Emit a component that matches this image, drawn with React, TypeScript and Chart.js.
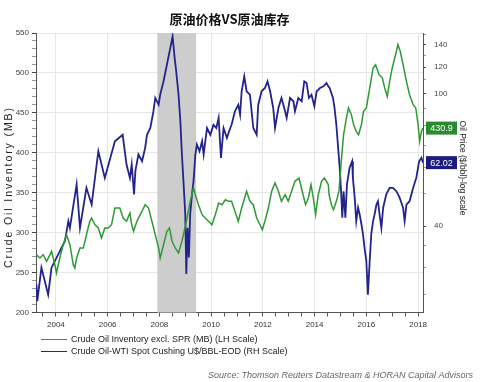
import React, { useEffect, useRef } from "react";
import { Chart, registerables } from "chart.js";

Chart.register(...registerables);

const chartTitle = "原油价格VS原油库存";
const leftAxisTitle = "Crude Oil Inventory (MB)";
const rightAxisTitle = "Oil Price ($/bbl)-log scale";
const sourceText = "Source: Thomson Reuters Datastream & HORAN Capital Advisors";
const inventoryLabel = "Crude Oil Inventory excl. SPR (MB) (LH Scale)";
const priceLabel = "Crude Oil-WTI Spot Cushing U$/BBL-EOD (RH Scale)";
const inventoryLastText = "430.9";
const priceLastText = "62.02";

const xTickYears = [2004, 2006, 2008, 2010, 2012, 2014, 2016, 2018];
const leftLabelTicks = [200, 250, 300, 350, 400, 450, 500, 550];
const rightLabelTicks = [40, 100, 120, 140];
const rightMinorTicks = [25, 30, 35, 40, 50, 60, 70, 80, 90, 100, 110, 120, 130, 140, 150];
const recessionBand = [2007.92, 2009.42];

const greenYears = [
  2003.25, 2003.38, 2003.51, 2003.64, 2003.77, 2003.83, 2003.96, 2004.02, 2004.15, 2004.28,
  2004.41, 2004.54, 2004.67, 2004.73, 2004.8, 2004.93, 2005.06, 2005.18, 2005.31, 2005.38,
  2005.51, 2005.64, 2005.76, 2005.89, 2006.02, 2006.15, 2006.28, 2006.47, 2006.6, 2006.73,
  2006.86, 2006.93, 2007.0, 2007.13, 2007.26, 2007.45, 2007.58, 2007.71, 2007.84, 2007.97,
  2008.03, 2008.16, 2008.29, 2008.39, 2008.49, 2008.61, 2008.74, 2008.87, 2008.93, 2009.07,
  2009.19, 2009.32, 2009.39, 2009.51, 2009.65, 2009.77, 2009.9, 2010.03, 2010.16, 2010.29,
  2010.42, 2010.55, 2010.67, 2010.79, 2010.92, 2011.05, 2011.18, 2011.37, 2011.5, 2011.63,
  2011.76, 2011.89, 2011.98, 2012.08, 2012.21, 2012.34, 2012.47, 2012.6, 2012.72, 2012.86,
  2012.98, 2013.11, 2013.24, 2013.4, 2013.52, 2013.65, 2013.76, 2013.86, 2013.95, 2014.04,
  2014.14, 2014.27, 2014.38, 2014.46, 2014.53, 2014.56, 2014.65, 2014.73, 2014.84, 2014.94,
  2015.03, 2015.12, 2015.23, 2015.31, 2015.42, 2015.51, 2015.61, 2015.7, 2015.81, 2015.89,
  2016.0, 2016.13, 2016.26, 2016.36, 2016.49, 2016.62, 2016.71, 2016.81, 2016.9, 2017.0,
  2017.13, 2017.22, 2017.31, 2017.42, 2017.55, 2017.67, 2017.81, 2017.91, 2018.0, 2018.06,
  2018.13, 2018.19,
];
const inventoryValues = [
  272.4, 268.2, 272.4, 264.1, 272.4, 276.6, 259.9, 249.5, 268.2, 284.9,
  297.4, 284.9, 259.9, 255.7, 268.2, 280.8, 280.8, 297.4, 314.2, 318.3,
  309.9, 305.8, 293.3, 305.8, 305.8, 309.9, 330.8, 330.8, 318.3, 314.2,
  324.6, 309.9, 301.7, 314.2, 322.5, 335.0, 330.8, 314.2, 297.4, 280.8,
  268.2, 284.9, 301.7, 305.8, 289.2, 280.8, 274.5, 289.2, 297.4, 318.3,
  339.2, 355.9, 347.5, 335.0, 322.5, 318.3, 314.2, 309.9, 322.5, 337.1,
  335.0, 341.2, 339.2, 339.2, 326.7, 314.2, 330.8, 351.8, 339.2, 335.0,
  318.3, 309.9, 303.7, 314.2, 330.8, 351.8, 362.2, 351.8, 339.2, 347.5,
  339.2, 351.8, 364.3, 368.4, 351.8, 335.0, 343.4, 360.0, 343.4, 322.5,
  347.5, 364.3, 368.4, 364.3, 360.0, 347.5, 335.0, 328.7, 339.2, 351.8,
  389.3, 422.6, 443.6, 456.1, 447.7, 435.2, 426.9, 422.6, 435.2, 451.9,
  456.1, 481.1, 506.2, 510.3, 497.8, 493.6, 481.1, 470.7, 489.5, 506.2,
  522.8, 535.3, 527.1, 510.3, 489.5, 472.7, 460.2, 456.1, 435.2, 414.4,
  426.9, 430.9,
];

const blueYears = [
  2003.25, 2003.28, 2003.44, 2003.7, 2003.83, 2004.09, 2004.35, 2004.48, 2004.54, 2004.8,
  2004.93, 2005.18, 2005.38, 2005.64, 2005.89, 2006.28, 2006.58, 2006.73, 2006.86, 2006.93,
  2007.02, 2007.07, 2007.19, 2007.33, 2007.45, 2007.52, 2007.65, 2007.77, 2007.84, 2007.97,
  2008.03, 2008.16, 2008.29, 2008.42, 2008.51, 2008.59, 2008.65, 2008.74, 2008.81, 2008.87,
  2008.93, 2009.0, 2009.04, 2009.09, 2009.14, 2009.19, 2009.26, 2009.32, 2009.39, 2009.45,
  2009.55, 2009.65, 2009.71, 2009.84, 2009.97, 2010.09, 2010.2, 2010.29, 2010.38, 2010.48,
  2010.61, 2010.74, 2010.79, 2010.92, 2011.05, 2011.12, 2011.18, 2011.28, 2011.37, 2011.5,
  2011.63, 2011.76, 2011.82, 2011.95, 2012.08, 2012.18, 2012.28, 2012.4, 2012.47, 2012.6,
  2012.72, 2012.86, 2012.92, 2013.05, 2013.18, 2013.24, 2013.37, 2013.5, 2013.6, 2013.69,
  2013.78, 2013.88, 2013.99, 2014.08, 2014.21, 2014.34, 2014.46, 2014.53, 2014.58, 2014.71,
  2014.77, 2014.84, 2014.9, 2014.97, 2015.03, 2015.07, 2015.12, 2015.19, 2015.25, 2015.35,
  2015.45, 2015.48, 2015.55, 2015.61, 2015.68, 2015.74, 2015.81, 2015.87, 2015.93, 2016.0,
  2016.06, 2016.13, 2016.19, 2016.26, 2016.32, 2016.39, 2016.45, 2016.51, 2016.58, 2016.65,
  2016.77, 2016.9, 2017.03, 2017.16, 2017.29, 2017.42, 2017.48, 2017.55, 2017.67, 2017.81,
  2017.93, 2018.04, 2018.13, 2018.19,
];
const priceValues = [
  26.7, 23.8, 30.0, 24.9, 30.0, 32.9, 36.1, 41.4, 39.5, 53.3,
  39.5, 52.1, 46.4, 67.1, 55.8, 71.9, 75.2, 61.2, 55.8, 61.2,
  49.8, 58.5, 65.6, 62.6, 68.7, 75.2, 78.8, 88.5, 97.0, 92.6,
  99.2, 108.8, 122.0, 136.9, 148.4, 127.8, 116.6, 99.2, 82.6, 65.6,
  54.6, 43.4, 28.7, 39.5, 32.2, 43.4, 49.8, 54.6, 65.6, 70.3,
  67.1, 71.9, 65.6, 78.8, 75.2, 80.6, 78.8, 84.5, 64.1, 78.8,
  73.6, 78.8, 80.6, 88.5, 92.6, 86.4, 101.6, 112.6, 101.6, 99.2,
  78.8, 75.2, 92.6, 101.6, 103.9, 108.8, 101.6, 90.5, 78.8, 90.5,
  97.0, 88.5, 84.5, 97.0, 94.8, 88.5, 97.0, 94.8, 108.8, 107.5,
  97.0, 99.2, 91.6, 101.6, 103.9, 105.1, 107.5, 105.1, 103.9, 97.0,
  90.5, 80.6, 70.3, 59.8, 49.8, 42.4, 50.9, 42.4, 53.3, 59.8,
  62.6, 55.8, 48.6, 41.4, 45.4, 43.4, 40.5, 37.8, 34.4, 31.4,
  24.9, 31.4, 37.8, 41.4, 43.4, 46.4, 47.5, 43.4, 39.5, 45.4,
  49.8, 52.1, 52.1, 50.9, 48.6, 45.4, 41.4, 46.4, 47.5, 52.1,
  55.8, 62.6, 64.1, 62.02,
];

const GREEN = "#2f9a35";
const BLUE = "#23238c";
const FONT = '"Liberation Sans", Arial, sans-serif';

const halfYearTicks: number[] = [];
for (let v = 2003.5; v <= 2018.001; v += 0.5) halfYearTicks.push(v);
const leftMinorTicks: number[] = [];
for (let v = 200; v <= 550; v += 10) leftMinorTicks.push(v);

const decorPlugin = {
  id: "decor",
  beforeDatasetsDraw(chart: any) {
    const { ctx, chartArea, scales } = chart;
    const x0 = scales.x.getPixelForValue(recessionBand[0]);
    const x1 = scales.x.getPixelForValue(recessionBand[1]);
    ctx.save();
    ctx.fillStyle = "#cdcdcd";
    ctx.fillRect(x0, chartArea.top, x1 - x0, chartArea.bottom - chartArea.top);
    ctx.restore();
  },
  afterDraw(chart: any) {
    const { ctx, chartArea } = chart;
    ctx.save();
    // title
    ctx.fillStyle = "#111";
    ctx.font = 'bold 13px "Noto Sans CJK SC", sans-serif';
    ctx.textAlign = "center";
    ctx.textBaseline = "middle";
    ctx.fillText(chartTitle, (chartArea.left + chartArea.right) / 2, 19.5);

    // left axis title
    ctx.save();
    ctx.font = "10.5px " + FONT;
    ctx.fillStyle = "#222";
    const w0 = ctx.measureText(leftAxisTitle).width;
    const ls = Math.max(0, (160 - w0) / (leftAxisTitle.length - 1));
    (ctx as any).letterSpacing = ls + "px";
    ctx.translate(9, 188);
    ctx.rotate(-Math.PI / 2);
    ctx.textAlign = "center";
    ctx.fillText(leftAxisTitle, ls / 2, 0);
    ctx.restore();

    // right axis title
    ctx.save();
    ctx.font = "8.5px " + FONT;
    ctx.fillStyle = "#222";
    ctx.translate(462, 168);
    ctx.rotate(Math.PI / 2);
    ctx.textAlign = "center";
    ctx.fillText(rightAxisTitle, 0, 0);
    ctx.restore();

    // value boxes
    const boxes = [
      { idx: 0, text: inventoryLastText, color: "#2b8a2f" },
      { idx: 1, text: priceLastText, color: "#1c1c7e" },
    ];
    boxes.forEach((b) => {
      const meta = chart.getDatasetMeta(b.idx);
      const pt = meta.data[meta.data.length - 1];
      const bx = chartArea.right + 3;
      ctx.fillStyle = b.color;
      ctx.fillRect(bx, pt.y - 6.5, 31, 13);
      ctx.fillStyle = "#fff";
      ctx.font = "9px " + FONT;
      ctx.textAlign = "center";
      ctx.textBaseline = "middle";
      ctx.fillText(b.text, bx + 15.5, pt.y + 0.5);
    });

    // legend
    chart.data.datasets.forEach((ds: any, i: number) => {
      const y = 339.5 + i * 12;
      ctx.strokeStyle = ds.borderColor;
      ctx.lineWidth = 1;
      ctx.beginPath();
      ctx.moveTo(41, y);
      ctx.lineTo(67, y);
      ctx.stroke();
      ctx.fillStyle = "#222";
      ctx.font = "9px " + FONT;
      ctx.textAlign = "left";
      ctx.textBaseline = "middle";
      ctx.fillText(ds.label, 71, y);
    });

    // source
    ctx.fillStyle = "#666";
    ctx.font = "italic 9px " + FONT;
    ctx.textAlign = "right";
    ctx.textBaseline = "middle";
    ctx.fillText(sourceText, 473, 375);
    ctx.restore();
  },
};

export default function App() {
  const canvasRef = useRef<HTMLCanvasElement | null>(null);

  useEffect(() => {
    if (!canvasRef.current) return;
    const chart = new Chart(canvasRef.current, {
      type: "line",
      data: {
        datasets: [
          {
            label: inventoryLabel,
            data: greenYears.map((x, i) => ({ x, y: inventoryValues[i] })),
            yAxisID: "y",
            borderColor: GREEN,
            backgroundColor: GREEN,
            borderWidth: 1.5,
            pointRadius: 0,
            tension: 0,
          },
          {
            label: priceLabel,
            data: blueYears.map((x, i) => ({ x, y: priceValues[i] })),
            yAxisID: "y1",
            borderColor: BLUE,
            backgroundColor: BLUE,
            borderWidth: 1.8,
            pointRadius: 0,
            tension: 0,
          },
        ],
      },
      options: {
        responsive: false,
        animation: false,
        devicePixelRatio: 1,
        layout: { padding: { top: 33, left: 0, right: 0, bottom: 0 } },
        plugins: { legend: { display: false }, tooltip: { enabled: false }, title: { display: false } },
        scales: {
          x: {
            type: "linear",
            min: 2003.23,
            max: 2018.19,
            afterBuildTicks: (s: any) => {
              s.ticks = halfYearTicks.map((v) => ({ value: v }));
            },
            afterFit: (s: any) => {
              s.height = 69.5;
            },
            ticks: {
              autoSkip: false,
              maxRotation: 0,
              minRotation: 0,
              padding: 3,
              color: "#333",
              font: { size: 8, family: FONT },
              callback: (v: any) => (xTickYears.includes(Number(v)) ? String(v) : ""),
            },
            grid: {
              color: (c: any) => (c.tick && xTickYears.includes(c.tick.value) ? "#e6e6e6" : "rgba(0,0,0,0)"),
              tickColor: "#555",
              tickLength: 4,
            },
            border: { color: "#555", width: 1 },
          },
          y: {
            type: "linear",
            position: "left",
            min: 200,
            max: 550,
            afterBuildTicks: (s: any) => {
              s.ticks = leftMinorTicks.map((v) => ({ value: v }));
            },
            afterFit: (s: any) => {
              s.width = 36;
            },
            ticks: {
              autoSkip: false,
              padding: 3,
              color: "#444",
              font: { size: 8, family: FONT },
              callback: (v: any) => (leftLabelTicks.includes(Number(v)) ? String(v) : ""),
            },
            grid: {
              color: (c: any) =>
                c.tick && leftLabelTicks.includes(c.tick.value) && c.tick.value > 200 ? "#e6e6e6" : "rgba(0,0,0,0)",
              tickColor: (c: any) => (c.tick && leftLabelTicks.includes(c.tick.value) ? "#444" : "#999"),
              tickLength: 4,
            },
            border: { color: "#555", width: 1 },
          },
          y1: {
            type: "logarithmic",
            position: "right",
            min: 22,
            max: 152,
            afterBuildTicks: (s: any) => {
              s.ticks = rightMinorTicks.map((v) => ({ value: v }));
            },
            afterFit: (s: any) => {
              s.width = 63;
            },
            ticks: {
              autoSkip: false,
              padding: 8,
              color: "#444",
              font: { size: 8, family: FONT },
              callback: (v: any) => (rightLabelTicks.includes(Number(v)) ? String(v) : ""),
            },
            grid: {
              drawOnChartArea: false,
              tickColor: (c: any) => (c.tick && rightLabelTicks.includes(c.tick.value) ? "#444" : "#999"),
              tickLength: 3,
            },
            border: { color: "#555", width: 1 },
          },
        },
      } as any,
      plugins: [decorPlugin],
    });
    return () => chart.destroy();
  }, []);

  return (
    <div style={{ position: "fixed", left: 0, top: 0, width: 486, height: 382, background: "#fff" }}>
      <canvas ref={canvasRef} width={486} height={382} style={{ display: "block", width: 486, height: 382 }} />
    </div>
  );
}
